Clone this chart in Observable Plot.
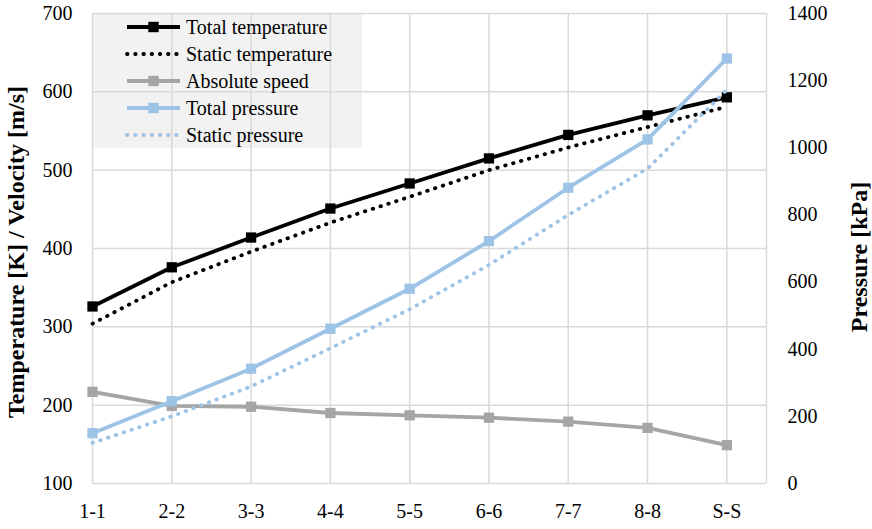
<!DOCTYPE html>
<html>
<head>
<meta charset="utf-8">
<script src="https://cdn.jsdelivr.net/npm/d3@7"></script>
<script src="https://cdn.jsdelivr.net/npm/@observablehq/plot@0.6"></script>
<style>
  body { margin: 0; background: #fff; }
  #chart svg, #chart svg text { font-family: "Liberation Serif", "Times New Roman", serif !important; }
</style>
</head>
<body>
<div id="chart"></div>
<script>
const categories = ["1-1", "2-2", "3-3", "4-4", "5-5", "6-6", "7-7", "8-8", "S-S"];
const totalTemperature = [326, 376, 414, 451, 483, 515, 545, 570, 593];
const staticTemperature = [304, 357, 396, 433, 466, 500, 529, 555, 581];
const absoluteSpeed = [217, 199, 198, 190, 187, 184, 179, 171, 149];
const totalPressure = [150, 245, 342, 461, 580, 722, 881, 1025, 1266];
const staticPressure = [121, 200, 289, 403, 519, 651, 800, 938, 1173];
const leftTicks = [100, 200, 300, 400, 500, 600, 700];
const rightTicks = [0, 200, 400, 600, 800, 1000, 1200, 1400];

const FONT = "Liberation Serif";

// pressure (0..1400) mapped onto the left scale (100..700)
const p2y = p => 100 + p * 600 / 1400;
const y2p = y => String(Math.round((y - 100) * 1400 / 600));

const series = [
  {name: "Total temperature", values: totalTemperature, color: "#000000", dotted: false, pressure: false},
  {name: "Static temperature", values: staticTemperature, color: "#000000", dotted: true, pressure: false},
  {name: "Absolute speed", values: absoluteSpeed, color: "#a5a5a5", dotted: false, pressure: false},
  {name: "Total pressure", values: totalPressure, color: "#9dc3e6", dotted: false, pressure: true},
  {name: "Static pressure", values: staticPressure, color: "#9dc3e6", dotted: true, pressure: true}
];
const rows = s => s.values.map((v, i) => ({i, y: s.pressure ? p2y(v) : v}));

const axisStyle = {tickSize: 0, fontSize: 20, fontFamily: FONT, fill: "#000", label: null};
const marks = [
  Plot.gridX(d3.range(categories.length), {stroke: "#d9d9d9", strokeOpacity: 1, strokeWidth: 1.5}),
  Plot.gridY(leftTicks, {stroke: "#d9d9d9", strokeOpacity: 1, strokeWidth: 1.5}),
  Plot.ruleX([categories.length - 0.5], {stroke: "#d9d9d9", strokeWidth: 1.5}),
  Plot.axisX(d3.range(categories.length), {...axisStyle, tickFormat: i => categories[i], tickPadding: 20}),
  Plot.axisY(leftTicks, {...axisStyle, anchor: "left", tickPadding: 20}),
  Plot.axisY(rightTicks.map(p2y), {...axisStyle, anchor: "right", tickPadding: 21, tickFormat: y2p})
];
for (const s of series) {
  const d = rows(s);
  marks.push(Plot.line(d, {
    x: "i", y: "y", stroke: s.color, strokeWidth: 3.8,
    strokeDasharray: s.dotted ? "0.5,7.7" : null,
    strokeLinecap: s.dotted ? "round" : "butt",
    strokeLinejoin: "round"
  }));
  if (!s.dotted) {
    marks.push(Plot.dot(d, {x: "i", y: "y", symbol: "square", r: 5.8, fill: s.color, stroke: "none"}));
  }
}

const chart = Plot.plot({
  width: 872,
  height: 529,
  marginLeft: 92,
  marginRight: 106,
  marginTop: 13,
  marginBottom: 46,
  style: {fontSize: "20px", background: "#fff"},
  x: {type: "linear", domain: [0, categories.length - 0.5], axis: null},
  y: {domain: [100, 700], axis: null},
  marks
});
document.getElementById("chart").appendChild(chart);

// Legend and axis titles
const svg = d3.select(chart).attr("font-family", FONT).style("font-family", FONT);
const xs = chart.scale("x"), ys = chart.scale("y");
const plotLeft = xs.apply(0), plotTop = ys.apply(700);
svg.insert("rect", ":first-child")
  .attr("x", plotLeft).attr("y", plotTop).attr("width", 270).attr("height", 135)
  .attr("fill", "#f2f2f2");
svg.insert("rect", ":first-child").attr("width", 872).attr("height", 529).attr("fill", "#fff");

const lg = svg.append("g").attr("text-anchor", "start");
series.forEach((s, k) => {
  const cy = plotTop + 14 + k * 27;
  const x0 = plotLeft + 35, x1 = plotLeft + 88;
  lg.append("line").attr("x1", x0).attr("x2", x1).attr("y1", cy).attr("y2", cy)
    .attr("stroke", s.color).attr("stroke-width", 3.8)
    .attr("stroke-dasharray", s.dotted ? "0.5,7.7" : null)
    .attr("stroke-linecap", s.dotted ? "round" : "butt");
  if (!s.dotted) {
    lg.append("rect").attr("x", (x0 + x1) / 2 - 5.2).attr("y", cy - 5.2).attr("width", 10.4).attr("height", 10.4).attr("fill", s.color);
  }
  lg.append("text").attr("x", plotLeft + 94).attr("y", cy).attr("dy", "0.35em")
    .attr("text-anchor", "start").attr("font-family", FONT)
    .attr("font-size", 20).attr("fill", "#000").text(s.name);
});

svg.append("text")
  .attr("transform", "translate(16,252) rotate(-90)")
  .attr("text-anchor", "middle").attr("dy", "0.35em").attr("font-family", FONT)
  .attr("font-size", 24).attr("font-weight", "bold").attr("fill", "#000")
  .text("Temperature [K] / Velocity [m/s]");
svg.append("text")
  .attr("transform", "translate(859,257) rotate(-90)")
  .attr("text-anchor", "middle").attr("dy", "0.35em").attr("font-family", FONT)
  .attr("font-size", 24).attr("font-weight", "bold").attr("fill", "#000")
  .text("Pressure [kPa]");
</script>
</body>
</html>
